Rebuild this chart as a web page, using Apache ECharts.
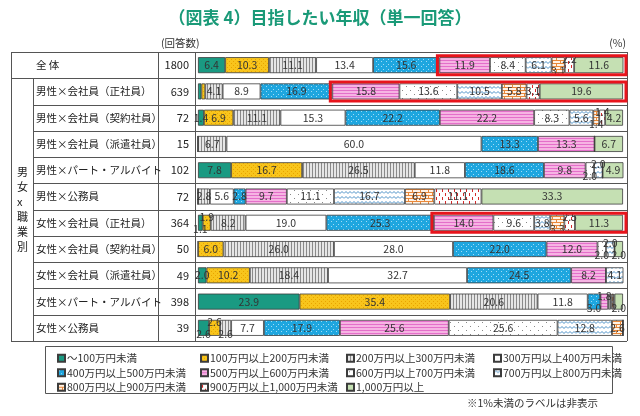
<!DOCTYPE html>
<html><head><meta charset="utf-8">
<script src="https://cdn.jsdelivr.net/npm/echarts@6/dist/echarts.min.js"></script>
<style>html,body{margin:0;padding:0;background:#fff}#c{width:640px;height:416px}</style>
</head><body><div id="c"></div>
<script>
const categories = ['全 体','男性×会社員（正社員）','男性×会社員（契約社員）','男性×会社員（派遣社員）','男性×パート・アルバイト','男性×公務員','女性×会社員（正社員）','女性×会社員（契約社員）','女性×会社員（派遣社員）','女性×パート・アルバイト','女性×公務員'];
const counts = ['1800','639','72','15','102','72','364','50','49','398','39'];
const seriesNames = ['～100万円未満','100万円以上200万円未満','200万円以上300万円未満','300万円以上400万円未満','400万円以上500万円未満','500万円以上600万円未満','600万円以上700万円未満','700万円以上800万円未満','800万円以上900万円未満','900万円以上1,000万円未満','1,000万円以上'];
const lt100     = [6.4, 0.8, 1.4, 0, 7.8, 0, 1.1, 0, 2.0, 23.9, 2.6];
const r100_200  = [10.3, 0.9, 6.9, 0, 16.7, 0, 1.9, 6.0, 10.2, 35.4, 2.6];
const r200_300  = [11.1, 4.1, 11.1, 6.7, 26.5, 2.8, 8.2, 26.0, 18.4, 20.6, 2.6];
const r300_400  = [13.4, 8.9, 15.3, 60.0, 11.8, 5.6, 19.0, 28.0, 32.7, 11.8, 7.7];
const r400_500  = [15.6, 16.9, 22.2, 13.3, 18.6, 2.8, 25.3, 22.0, 24.5, 3.0, 17.9];
const r500_600  = [11.9, 15.8, 22.2, 13.3, 9.8, 9.7, 14.0, 12.0, 8.2, 1.8, 25.6];
const r600_700  = [8.4, 13.6, 8.3, 0, 2.0, 11.1, 9.6, 2.0, 0, 0.5, 25.6];
const r700_800  = [6.1, 10.5, 5.6, 0, 2.0, 16.7, 3.8, 2.0, 4.1, 0.3, 12.8];
const r800_900  = [3.1, 5.8, 1.4, 0, 0, 6.9, 3.3, 0, 0, 0.4, 2.6];
const r900_1000 = [2.2, 3.1, 1.4, 0, 0, 11.1, 2.5, 0, 0, 0.3, 0];
const ge1000    = [11.6, 19.6, 4.2, 6.7, 4.9, 33.3, 11.3, 2.0, 0, 2.0, 0];
const highlightRows = [0, 1, 6];
const highlightFrom = 5; // 500万円以上 onward

const values = [lt100, r100_200, r200_300, r300_400, r400_500, r500_600, r600_700, r700_800, r800_900, r900_1000, ge1000];

const FONT = '"Noto Sans CJK JP", "Noto Sans", sans-serif';

function pat(w, h, bg, draw) {
  const c = document.createElement('canvas');
  c.width = w; c.height = h;
  const g = c.getContext('2d');
  g.fillStyle = bg; g.fillRect(0, 0, w, h);
  draw(g);
  return { image: c, repeat: 'repeat' };
}
const fills = [
  '#1a9a82',
  pat(4, 4, '#f8c51c', g => { g.fillStyle = '#eaa400'; g.fillRect(1, 1, 1, 1); g.fillRect(3, 3, 1, 1); }),
  pat(3, 2, '#e6e6e6', g => { g.fillStyle = '#8a8a8a'; g.fillRect(0, 0, 1, 2); }),
  '#ffffff',
  pat(5, 5, '#1ea6df', g => { g.fillStyle = '#9fdcf6'; g.fillRect(1, 1, 1, 1); g.fillRect(3, 4, 1, 1); }),
  pat(2, 3, '#f6b4e3', g => { g.fillStyle = '#e46fca'; g.fillRect(0, 0, 2, 1); }),
  pat(8, 8, '#ffffff', g => { g.fillStyle = '#888'; g.fillRect(2, 2, 1, 1); g.fillRect(6, 6, 1, 1); }),
  pat(8, 5, '#ffffff', g => { g.strokeStyle = '#4a8fc6'; g.lineWidth = 1; g.beginPath(); g.moveTo(0, 3.5); g.lineTo(2, 1.5); g.lineTo(4, 3.5); g.lineTo(6, 1.5); g.lineTo(8, 3.5); g.stroke(); }),
  pat(8, 6, '#fff3e6', g => { g.fillStyle = '#e8883a'; g.fillRect(0, 0, 8, 1); g.fillRect(0, 3, 8, 1); g.fillRect(0, 0, 1, 3); g.fillRect(4, 3, 1, 3); }),
  pat(6, 8, '#ffffff', g => { g.fillStyle = '#d42a2a'; g.fillRect(1, 1, 1, 3); g.fillRect(4, 5, 1, 3); }),
  '#c5e0b3'
];

// label offsets: runs of consecutive narrow labeled segments alternate below/above
const offsets = values.map(() => categories.map(() => 0));
categories.forEach((_, i) => {
  let run = [];
  const flush = () => {
    if (run.length >= 2) run.forEach((j, k) => { offsets[j][i] = (k % 2 === 0) ? 6 : -6; });
    run = [];
  };
  for (let j = 0; j < values.length; j++) {
    const v = values[j][i];
    if (v >= 1 && v < 3.5) run.push(j);
    else if (v >= 1) flush();
  }
  flush();
});

const series = seriesNames.map((name, j) => ({
  name, type: 'bar', stack: 'total', barWidth: 16,
  itemStyle: { color: fills[j], borderColor: '#3c3c3c', borderWidth: 0.8 },
  label: {
    show: true, position: 'inside', color: '#333', fontSize: 10.5, fontFamily: FONT,
    textBorderWidth: 0,
    formatter: p => (p.value >= 1 ? p.value.toFixed(1) : '')
  },
  emphasis: { disabled: true },
  data: values[j].map((v, i) => ({ value: v, label: { offset: [0, offsets[j][i]] } }))
}));

const legendCols = [[0, 4, 8], [1, 5, 9], [2, 6, 10], [3, 7]];
const legendX = [52, 195, 341, 488];
const legends = legendCols.map((col, k) => ({
  orient: 'vertical', left: legendX[k], top: 348, itemGap: 4,
  itemWidth: 7, itemHeight: 7, icon: 'rect',
  textStyle: { fontSize: 10.5, fontFamily: FONT, color: '#333', padding: [0, 0, 0, -3] },
  selectedMode: false,
  data: col.map(j => seriesNames[j])
}));

const chart = echarts.init(document.getElementById('c'));
const GRID = { left: 198, right: 17, top: 52, bottom: 75 };
chart.setOption({
  animation: false,
  title: {
    text: '（図表 4）目指したい年収（単一回答）', left: 'center', top: 4,
    textStyle: { fontSize: 17, fontWeight: 'bold', color: '#1a9a78', fontFamily: FONT }
  },
  legend: legends,
  grid: GRID,
  xAxis: { type: 'value', min: 0, max: 100, show: false },
  yAxis: [
    { type: 'category', inverse: true, data: categories,
      axisLine: { show: false }, axisTick: { show: false },
      axisLabel: { align: 'left', margin: 162, fontSize: 10.5, color: '#222', fontFamily: FONT } },
    { type: 'category', inverse: true, data: counts, position: 'left',
      axisLine: { show: false }, axisTick: { show: false },
      axisLabel: { align: 'right', margin: 9, fontSize: 11, color: '#222', fontFamily: FONT } }
  ],
  series
});

// table decoration
const T = { l: 11, c1: 33, c2: 158, c3: 195, r: 627, t: 52, b: 341 };
const rowH = (T.b - T.t) / categories.length;
const lineStyle = { stroke: '#555', lineWidth: 1 };
const g = [];
const hl = (x1, x2, y) => g.push({ type: 'line', shape: { x1, y1: Math.round(y) + 0.5, x2, y2: Math.round(y) + 0.5 }, style: lineStyle, silent: true });
const vl = (x, y1, y2) => g.push({ type: 'line', shape: { x1: x + 0.5, y1, x2: x + 0.5, y2 }, style: lineStyle, silent: true });
hl(T.l, T.r, T.t); hl(T.l, T.r, T.b);
for (let i = 1; i < categories.length; i++) hl(i === 1 ? T.l : T.c1, T.r, T.t + rowH * i);
vl(T.l, T.t, T.b); vl(T.r, T.t, T.b); vl(T.c2, T.t, T.b); vl(T.c3, T.t, T.b); vl(T.c1, T.t + rowH, T.b);
g.push({ type: 'text', left: 17, top: T.t + rowH + (T.b - T.t - rowH) / 2 - 45, silent: true,
  style: { text: '男\n女\nx\n職\n業\n別', lineHeight: 15, fill: '#222', font: '11px ' + FONT, align: 'center' } });
g.push({ type: 'text', left: 161, top: 38, silent: true, style: { text: '(回答数)', font: '10.5px ' + FONT, fill: '#333' } });
g.push({ type: 'text', right: 14, top: 38, silent: true, style: { text: '(%)', font: '10.5px ' + FONT, fill: '#333' } });
g.push({ type: 'rect', shape: { x: 45.5, y: 346.5, width: 567, height: 47 }, style: { fill: 'none', stroke: '#555', lineWidth: 1 }, silent: true, z: 0 });
g.push({ type: 'text', right: 42, top: 398, silent: true, style: { text: '※1%未満のラベルは非表示', font: '10.5px ' + FONT, fill: '#333' } });
// highlight boxes
highlightRows.forEach(i => {
  let s = 0, tot = 0;
  values.forEach((arr, j) => { if (j < highlightFrom) s += arr[i]; tot += arr[i]; });
  const p1 = chart.convertToPixel({ gridIndex: 0 }, [s, i]);
  const p2 = chart.convertToPixel({ gridIndex: 0 }, [Math.min(tot, 100), i]);
  g.push({ type: 'rect', z: 100, silent: true,
    shape: { x: p1[0] - 2, y: p1[1] - 9.5, width: p2[0] - p1[0] + 5, height: 19 },
    style: { fill: 'none', stroke: '#e8141c', lineWidth: 3 } });
});
chart.setOption({ graphic: g });
</script></body></html>
